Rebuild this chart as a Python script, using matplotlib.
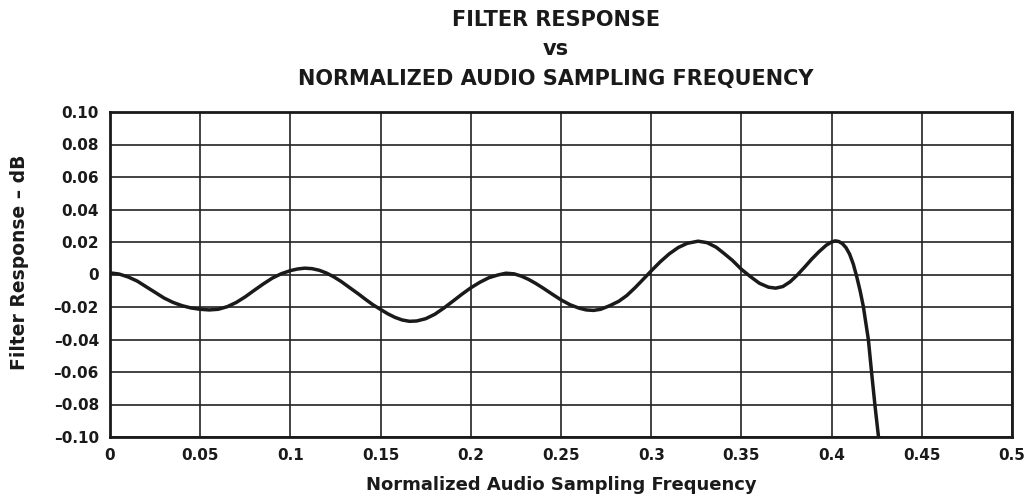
import matplotlib.pyplot as plt

# Values
freq = [0.0, 0.005, 0.01, 0.015, 0.02, 0.025, 0.03, 0.035, 0.04, 0.045,
        0.05, 0.055, 0.06, 0.065, 0.07, 0.075, 0.08, 0.085, 0.09, 0.095,
        0.1, 0.104, 0.108, 0.112, 0.116, 0.12, 0.124, 0.128, 0.133, 0.138,
        0.142, 0.146, 0.15, 0.154, 0.158, 0.162, 0.166, 0.17, 0.175, 0.18,
        0.185, 0.19, 0.195, 0.2, 0.205, 0.21, 0.215, 0.2195, 0.224, 0.228,
        0.232, 0.236, 0.24, 0.245, 0.25, 0.255, 0.26, 0.264, 0.268, 0.272,
        0.277, 0.282, 0.2864, 0.291, 0.295, 0.3, 0.305, 0.31, 0.315, 0.32,
        0.326, 0.331, 0.336, 0.34, 0.345, 0.35, 0.355, 0.36, 0.365, 0.369,
        0.373, 0.377, 0.381, 0.385, 0.389, 0.393, 0.397, 0.4, 0.402, 0.404,
        0.406, 0.408, 0.41, 0.412, 0.4139, 0.4158, 0.4176, 0.419, 0.4204,
        0.4222, 0.4241, 0.426]
response = [0.001, 0.0003, -0.0015, -0.004, -0.0075, -0.011, -0.0145,
            -0.0172, -0.0192, -0.0206, -0.0214, -0.0218, -0.0214, -0.0198,
            -0.0172, -0.0137, -0.0097, -0.0058, -0.0022, 0.0005, 0.0024,
            0.0034, 0.0039, 0.0036, 0.0026, 0.0009, -0.0014, -0.0042,
            -0.0082, -0.0122, -0.0156, -0.0188, -0.0215, -0.0242, -0.0264,
            -0.028, -0.0288, -0.0286, -0.0272, -0.0245, -0.0207, -0.0165,
            -0.0122, -0.0082, -0.0048, -0.002, -0.0003, 0.0008, 0.0004,
            -0.001, -0.003, -0.0055, -0.0083, -0.012, -0.0156, -0.0186,
            -0.0207, -0.0218, -0.0221, -0.0214, -0.0192, -0.0165, -0.013,
            -0.0082, -0.0036, 0.0022, 0.0078, 0.0127, 0.0166, 0.0192, 0.0205,
            0.0196, 0.0168, 0.0133, 0.0087, 0.0032, -0.0013, -0.0054, -0.0078,
            -0.0084, -0.0074, -0.0045, -0.0003, 0.0045, 0.0095, 0.014, 0.018,
            0.02, 0.0207, 0.0203, 0.019, 0.0165, 0.0125, 0.0065, -0.0012,
            -0.01, -0.0197, -0.03, -0.0402, -0.0607, -0.0812, -0.1]

xticks = [0, 0.05, 0.1, 0.15, 0.2, 0.25, 0.3, 0.35, 0.4, 0.45, 0.5]
xtick_labels = ["0", "0.05", "0.1", "0.15", "0.2", "0.25", "0.3", "0.35",
                "0.4", "0.45", "0.5"]
yticks = [0.10, 0.08, 0.06, 0.04, 0.02, 0, -0.02, -0.04, -0.06, -0.08, -0.10]
ytick_labels = ["0.10", "0.08", "0.06", "0.04", "0.02", "0", "\u20130.02",
                "\u20130.04", "\u20130.06", "\u20130.08", "\u20130.10"]

title_lines = ["FILTER RESPONSE", "vs", "NORMALIZED AUDIO SAMPLING FREQUENCY"]

W, H = 1031, 504
fig = plt.figure(figsize=(W / 100, H / 100), dpi=100)
ax = fig.add_axes([110 / W, 1 - 437 / H, 902 / W, 325 / H])

ax.plot(freq, response, color="#1a1a1a", linewidth=2.5, solid_capstyle="butt",
        solid_joinstyle="round")

ax.set_xlim(0, 0.5)
ax.set_ylim(-0.1, 0.1)
ax.set_xticks(xticks)
ax.set_xticklabels(xtick_labels)
ax.set_yticks(yticks)
ax.set_yticklabels(ytick_labels)
ax.tick_params(length=0, labelsize=11, pad=8)
for lab in ax.get_xticklabels() + ax.get_yticklabels():
    lab.set_fontweight("bold")
    lab.set_color("#1a1a1a")

ax.grid(True, color="#222222", linewidth=1.2)
ax.set_axisbelow(True)
for sp in ax.spines.values():
    sp.set_linewidth(2)
    sp.set_color("#1a1a1a")

ax.set_xlabel("Normalized Audio Sampling Frequency", fontsize=13,
              fontweight="bold", color="#1a1a1a", labelpad=9)
fig.text(20 / W, 1 - 262 / H, "Filter Response \u2013 dB", rotation=90,
         ha="center", va="center", fontsize=13.5, fontweight="bold",
         color="#1a1a1a")

# three-line title
for line, base in zip(title_lines, [26, 55, 85]):
    fig.text(556 / W, 1 - base / H, line, ha="center", va="baseline",
             fontsize=15, fontweight="bold", color="#1a1a1a")

fig.savefig("out.png", dpi=100)
